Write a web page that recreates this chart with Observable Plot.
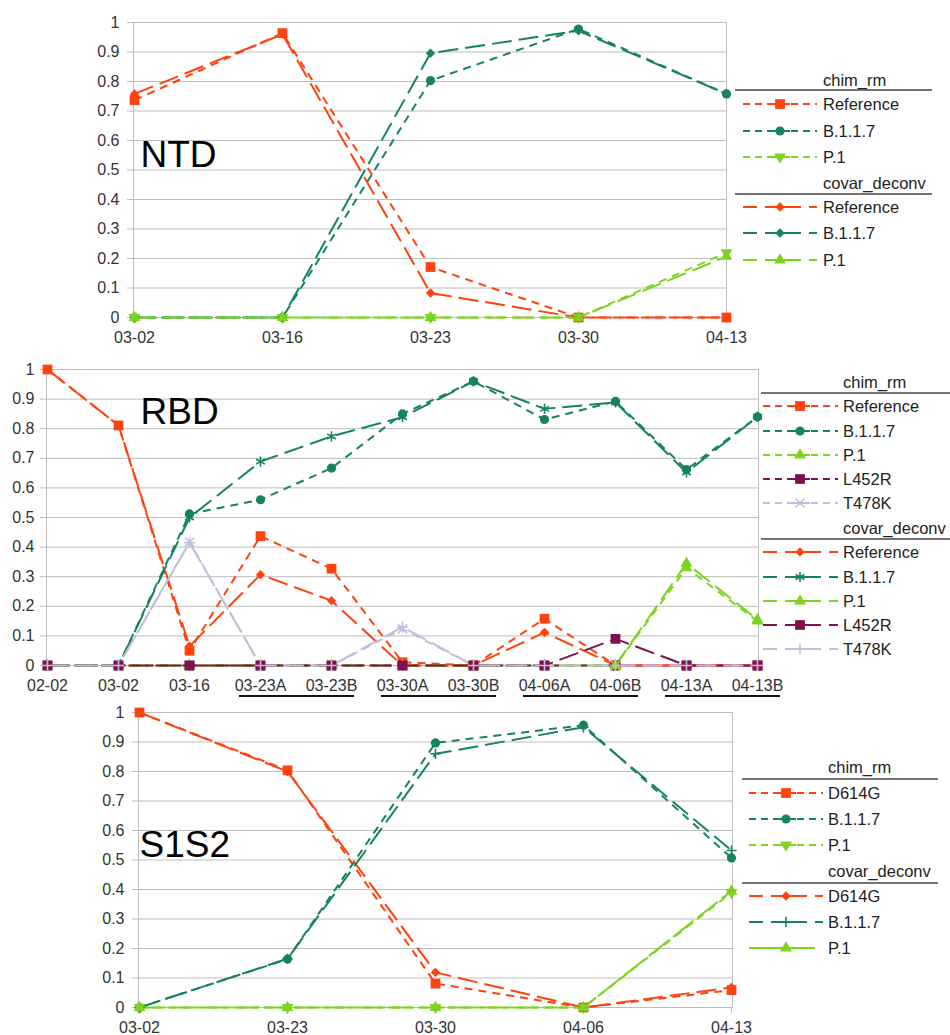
<!DOCTYPE html>
<html>
<head>
<meta charset="utf-8">
<script src="https://cdn.jsdelivr.net/npm/d3@7"></script>
<script src="https://cdn.jsdelivr.net/npm/@observablehq/plot@0.6"></script>
<style>
  body { margin: 0; background: #fff; font-family: "Liberation Sans", Arial, sans-serif; }
  #root { position: relative; width: 950px; height: 1035px; overflow: hidden; background: #fff; }
  .panel { position: absolute; left: 0; }
  .panel svg { overflow: visible; }
  #overlay { position: absolute; left: 0; top: 0; pointer-events: none; }
</style>
</head>
<body>
<div id="root"></div>
<script>
// ---------------- DATA ----------------
const yTicks = [0, 0.1, 0.2, 0.3, 0.4, 0.5, 0.6, 0.7, 0.8, 0.9, 1];
const methods = ["chim_rm", "covar_deconv"];

// NTD panel
const ntdDates = ["03-02", "03-16", "03-23", "03-30", "04-13"];
const ntdVariants = ["Reference", "B.1.1.7", "P.1"];
const ntdChimReference  = [0.737, 0.964, 0.171, 0, 0];
const ntdChimB117       = [0, 0, 0.803, 0.978, 0.758];
const ntdChimP1         = [0, 0, 0, 0, 0.22];
const ntdCovarReference = [0.758, 0.96, 0.083, 0, 0];
const ntdCovarB117      = [0, 0, 0.896, 0.972, 0.758];
const ntdCovarP1        = [0, 0, 0, 0, 0.207];

// RBD panel
const rbdDates = ["02-02", "03-02", "03-16", "03-23A", "03-23B", "03-30A", "03-30B", "04-06A", "04-06B", "04-13A", "04-13B"];
const rbdVariants = ["Reference", "B.1.1.7", "P.1", "L452R", "T478K"];
const rbdChimReference  = [1, 0.811, 0.05, 0.437, 0.327, 0.011, 0, 0.158, 0, 0, 0];
const rbdChimB117       = [0, 0, 0.512, 0.56, 0.667, 0.85, 0.96, 0.831, 0.892, 0.662, 0.84];
const rbdChimP1         = [0, 0, 0, 0, 0, 0, 0, 0, 0, 0.33, 0.15];
const rbdChimL452R      = [0, 0, 0, 0, 0, 0, 0, 0, 0, 0, 0];
const rbdChimT478K      = [0, 0, 0.417, 0, 0, 0.124, 0, 0, 0, 0, 0];
const rbdCovarReference = [1, 0.811, 0.065, 0.307, 0.219, 0, 0, 0.112, 0, 0, 0];
const rbdCovarB117      = [0, 0, 0.5, 0.689, 0.774, 0.839, 0.96, 0.867, 0.889, 0.652, 0.84];
const rbdCovarP1        = [0, 0, 0, 0, 0, 0, 0, 0, 0, 0.345, 0.155];
const rbdCovarL452R     = [0, 0, 0, 0, 0, 0, 0, 0, 0.09, 0, 0];
const rbdCovarT478K     = [0, 0, 0.415, 0, 0, 0.13, 0, 0, 0, 0, 0];
const rbdGroups = [["03-23A", "03-23B"], ["03-30A", "03-30B"], ["04-06A", "04-06B"], ["04-13A", "04-13B"]];

// S1S2 panel
const s1s2Dates = ["03-02", "03-23", "03-30", "04-06", "04-13"];
const s1s2Variants = ["D614G", "B.1.1.7", "P.1"];
const s1s2ChimD614G  = [1, 0.804, 0.081, 0, 0.059];
const s1s2ChimB117   = [0, 0.164, 0.897, 0.957, 0.507];
const s1s2ChimP1     = [0, 0, 0, 0, 0.39];
const s1s2CovarD614G = [1, 0.8, 0.119, 0, 0.068];
const s1s2CovarB117  = [0, 0.165, 0.86, 0.95, 0.532];
const s1s2CovarP1    = [0, 0, 0, 0, 0.395];

// ---------------- STYLE ----------------
const FONT = '"Liberation Sans", Arial, sans-serif';
const colors = {Reference: "#ff420e", D614G: "#ff420e", "B.1.1.7": "#16835f", "P.1": "#7ed321", L452R: "#7f1150", T478K: "#bfbfdb"};
const dashes = {chim_rm: "8,6", covar_deconv: "20,7"};
const GRID = "#bdbdbd";
const symbolStroke = new Set(["asterisk", "plus", "times"]);
const d3Symbols = {square: d3.symbolSquare, circle: d3.symbolCircle, triangle: d3.symbolTriangle, diamond2: d3.symbolDiamond2,
  asterisk: d3.symbolAsterisk, plus: d3.symbolPlus, times: d3.symbolTimes};

function mk(method, variant, dates, values, symbol, r, rotate = 0, dash = null) {
  return {method, variant, color: colors[variant], dash: dash ?? dashes[method], symbol, r, rotate,
    rows: dates.map((d, i) => ({date: d, value: values[i]}))};
}

const panels = [
  {
    title: "NTD", dates: ntdDates, top: 0, height: 345,
    margin: {top: 22, bottom: 28, left: 133, right: 224}, yPad: 8, titleDx: 7, titleDy: 118,
    series: [
      mk("chim_rm", "Reference", ntdDates, ntdChimReference, "square", 5.5),
      mk("chim_rm", "B.1.1.7", ntdDates, ntdChimB117, "circle", 4.6),
      mk("chim_rm", "P.1", ntdDates, ntdChimP1, "triangle", 4.4, 180),
      mk("covar_deconv", "Reference", ntdDates, ntdCovarReference, "diamond2", 4.2),
      mk("covar_deconv", "B.1.1.7", ntdDates, ntdCovarB117, "diamond2", 4.2),
      mk("covar_deconv", "P.1", ntdDates, ntdCovarP1, "triangle", 4.4)
    ],
    legend: {ruleX: [735, 932], sample: [743, 817], markerX: 780, textX: 823,
      headerY: [80, 183], ruleY: [90, 194], itemY: [[104, 131, 157], [207, 233, 260]]}
  },
  {
    title: "RBD", dates: rbdDates, top: 345, height: 360,
    margin: {top: 24, bottom: 40, left: 46, right: 192}, yPad: 6, titleDx: 94, titleDy: 28,
    series: [
      mk("chim_rm", "Reference", rbdDates, rbdChimReference, "square", 5.5),
      mk("chim_rm", "B.1.1.7", rbdDates, rbdChimB117, "circle", 4.6),
      mk("chim_rm", "P.1", rbdDates, rbdChimP1, "triangle", 4.4),
      mk("chim_rm", "L452R", rbdDates, rbdChimL452R, "square", 5.5),
      mk("chim_rm", "T478K", rbdDates, rbdChimT478K, "times", 4.2),
      mk("covar_deconv", "Reference", rbdDates, rbdCovarReference, "diamond2", 4.2),
      mk("covar_deconv", "B.1.1.7", rbdDates, rbdCovarB117, "asterisk", 4.8),
      mk("covar_deconv", "P.1", rbdDates, rbdCovarP1, "triangle", 4.4),
      mk("covar_deconv", "L452R", rbdDates, rbdCovarL452R, "square", 5.5),
      mk("covar_deconv", "T478K", rbdDates, rbdCovarT478K, "plus", 3.6)
    ],
    legend: {ruleX: [761, 950], sample: [763, 838], markerX: 800, textX: 843,
      headerY: [382, 528], ruleY: [393, 539], itemY: [[406, 431, 455, 479, 503], [552, 577, 601, 625, 649]]}
  },
  {
    title: "S1S2", dates: s1s2Dates, top: 690, height: 345,
    margin: {top: 22, bottom: 28, left: 138, right: 218}, yPad: 8, titleDx: 1, titleDy: 118,
    series: [
      mk("chim_rm", "D614G", s1s2Dates, s1s2ChimD614G, "square", 5.5),
      mk("chim_rm", "B.1.1.7", s1s2Dates, s1s2ChimB117, "circle", 4.6),
      mk("chim_rm", "P.1", s1s2Dates, s1s2ChimP1, "triangle", 4.4, 180),
      mk("covar_deconv", "D614G", s1s2Dates, s1s2CovarD614G, "diamond2", 4.2),
      mk("covar_deconv", "B.1.1.7", s1s2Dates, s1s2CovarB117, "plus", 3.4),
      mk("covar_deconv", "P.1", s1s2Dates, s1s2CovarP1, "triangle", 4.4, 0, "26,5")
    ],
    legend: {ruleX: [742, 938], sample: [749, 823], markerX: 786, textX: 828,
      headerY: [767, 871], ruleY: [779, 883], itemY: [[793, 819, 845], [896, 922, 948]], solidLast: true}
  }
];

// ---------------- DRAW ----------------
const root = document.getElementById("root");
const plots = [];

for (const p of panels) {
  const marks = [
    Plot.gridY({ticks: yTicks, stroke: GRID, strokeOpacity: 1}),
    Plot.frame({stroke: GRID}),
    Plot.axisY({ticks: yTicks, tickSize: 6, tickPadding: p.yPad, stroke: GRID, fill: "#333",
      tickFormat: d => String(d), fontSize: 16, label: null}),
    Plot.axisX({tickSize: 6, tickPadding: 8, stroke: GRID, fill: "#333", fontSize: 16, label: null}),
    Plot.text([p.title], {text: d => d, frameAnchor: "top-left", dx: p.titleDx, dy: p.titleDy,
      fontSize: 37, fill: "#000", textAnchor: "start", lineAnchor: "top", fontFamily: FONT})
  ];
  for (const s of p.series) {
    marks.push(Plot.line(s.rows, {x: "date", y: "value", stroke: s.color, strokeWidth: 2,
      strokeDasharray: s.dash, strokeLinecap: "butt", strokeLinejoin: "miter"}));
  }
  for (const s of p.series) {
    const isStroke = symbolStroke.has(s.symbol);
    marks.push(Plot.dot(s.rows, {x: "date", y: "value", symbol: s.symbol, r: s.r, rotate: s.rotate,
      fill: isStroke ? "none" : s.color, stroke: isStroke ? s.color : "none", strokeWidth: isStroke ? 1.6 : 0}));
  }
  const chart = Plot.plot({
    width: 950, height: p.height,
    marginTop: p.margin.top, marginBottom: p.margin.bottom, marginLeft: p.margin.left, marginRight: p.margin.right,
    x: {type: "point", domain: p.dates, padding: 0, label: null},
    y: {domain: [0, 1], label: null},
    style: {fontFamily: FONT, fontSize: "16px", color: "#333", background: "transparent", overflow: "visible"},
    marks
  });
  const div = document.createElement("div");
  div.className = "panel";
  div.style.top = p.top + "px";
  div.appendChild(chart);
  root.appendChild(div);
  plots.push(chart);
}

// Overlay: legends and group underlines
const overlay = d3.create("svg").attr("id", "overlay").attr("width", 950).attr("height", 1035)
  .style("font-family", FONT);

panels.forEach((p, pi) => {
  const L = p.legend;
  methods.forEach((m, mi) => {
    overlay.append("text").attr("x", L.textX).attr("y", L.headerY[mi]).attr("dy", "0.35em")
      .attr("font-size", 16.5).attr("fill", "#222").text(m);
    overlay.append("line").attr("x1", L.ruleX[0]).attr("x2", L.ruleX[1])
      .attr("y1", L.ruleY[mi]).attr("y2", L.ruleY[mi]).attr("stroke", "#444").attr("stroke-width", 1.5);
    const items = p.series.filter(s => s.method === m);
    items.forEach((s, ii) => {
      const y = L.itemY[mi][ii];
      const solid = L.solidLast && mi === 1 && ii === items.length - 1;
      const g = overlay.append("g");
      if (solid) {
        g.append("line").attr("x1", L.sample[0]).attr("x2", L.sample[1] - 8).attr("y1", y).attr("y2", y)
          .attr("stroke", s.color).attr("stroke-width", 2);
      } else {
        const dash = m === "chim_rm" ? "7,5" : "14,8";
        g.append("line").attr("x1", L.sample[0]).attr("x2", L.sample[1]).attr("y1", y).attr("y2", y)
          .attr("stroke", s.color).attr("stroke-width", 2).attr("stroke-dasharray", dash);
        const half = m === "chim_rm" ? 10 : 15;
        g.append("line").attr("x1", L.markerX - half).attr("x2", L.markerX + half).attr("y1", y).attr("y2", y)
          .attr("stroke", s.color).attr("stroke-width", 2);
      }
      const isStroke = symbolStroke.has(s.symbol);
      g.append("path")
        .attr("d", d3.symbol(d3Symbols[s.symbol], Math.PI * s.r * s.r)())
        .attr("transform", `translate(${L.markerX},${y}) rotate(${s.rotate})`)
        .attr("fill", isStroke ? "none" : s.color)
        .attr("stroke", isStroke ? s.color : "none")
        .attr("stroke-width", isStroke ? 1.6 : 0);
      overlay.append("text").attr("x", L.textX).attr("y", y).attr("dy", "0.35em")
        .attr("font-size", 16.5).attr("fill", "#222").text(s.variant);
    });
  });
});

// underline groups under RBD x labels
const rbdX = plots[1].scale("x");
const rbdTop = panels[1].top;
for (const [a, b] of rbdGroups) {
  overlay.append("line")
    .attr("x1", rbdX.apply(a) - 21).attr("x2", rbdX.apply(b) + 23)
    .attr("y1", rbdTop + 351).attr("y2", rbdTop + 351)
    .attr("stroke", "#111").attr("stroke-width", 2);
}

root.appendChild(overlay.node());
</script>
</body>
</html>
